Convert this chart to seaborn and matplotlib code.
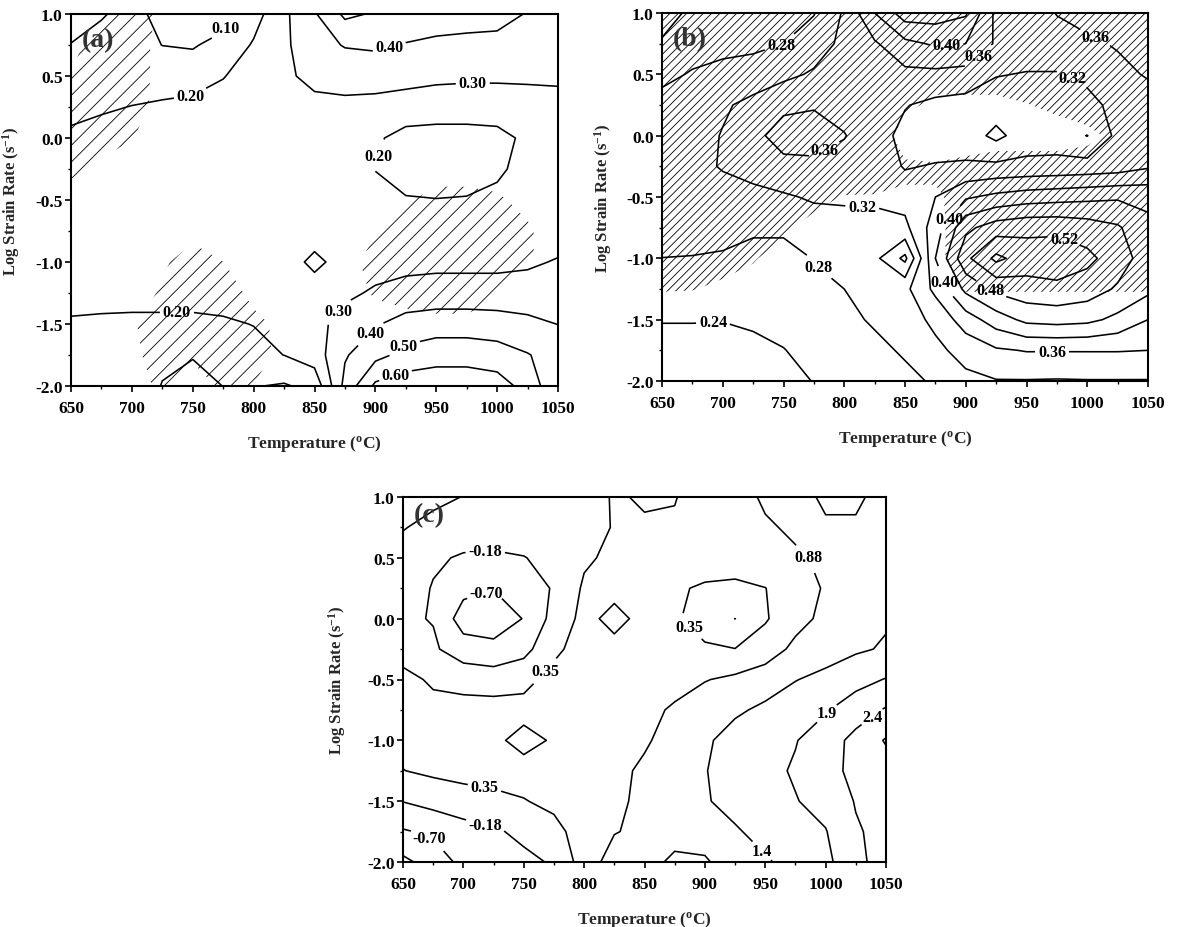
import numpy as np
import matplotlib
matplotlib.use("Agg")
import matplotlib.pyplot as plt
from matplotlib.ticker import MultipleLocator
import seaborn as sns

sns.set_theme(style="ticks")
plt.rcParams.update({
    "font.family": ["Liberation Serif", "DejaVu Serif"],
    "font.weight": "bold",
    "axes.labelweight": "bold",
    "mathtext.default": "regular",
    "axes.unicode_minus": False,
    "hatch.color": "black",
    "hatch.linewidth": 0.6,
    "axes.linewidth": 1.5,
    "axes.edgecolor": "black",
    "axes.facecolor": "white",
    "figure.facecolor": "white",
    "xtick.color": "black",
    "ytick.color": "black",
    "contour.negative_linestyle": "solid",
})

# grid of the processing maps
temperature = [650, 675, 700, 725, 750, 775, 800, 825, 850,
               875, 900, 925, 950, 975, 1000, 1025, 1050]
log_strain_rate = [1.0, 0.75, 0.5, 0.25, 0.0, -0.25, -0.5,
                   -0.75, -1.0, -1.25, -1.5, -1.75, -2.0]

# (a) power dissipation efficiency, rows from log rate 1.0 down to -2.0
eta_a = [
    [0.07, 0.095, 0.12, 0.08, 0.06, 0.06, 0.16, 0.28, 0.39, 0.52, 0.49, 0.46, 0.45, 0.44, 0.43, 0.395, 0.36],
    [0.102, 0.12, 0.13, 0.099, 0.092, 0.13, 0.21, 0.28, 0.37, 0.405, 0.415, 0.395, 0.38, 0.375, 0.375, 0.36, 0.34],
    [0.15, 0.16, 0.16, 0.15, 0.15, 0.195, 0.25, 0.28, 0.33, 0.35, 0.34, 0.33, 0.32, 0.315, 0.315, 0.315, 0.31],
    [0.17, 0.19, 0.202, 0.215, 0.23, 0.245, 0.26, 0.27, 0.27, 0.27, 0.27, 0.26, 0.25, 0.25, 0.25, 0.26, 0.28],
    [0.22, 0.23, 0.235, 0.24, 0.25, 0.25, 0.26, 0.26, 0.26, 0.24, 0.215, 0.165, 0.16, 0.16, 0.17, 0.22, 0.24],
    [0.23, 0.235, 0.24, 0.245, 0.25, 0.255, 0.26, 0.26, 0.255, 0.235, 0.198, 0.17, 0.16, 0.165, 0.185, 0.23, 0.245],
    [0.235, 0.24, 0.245, 0.25, 0.25, 0.255, 0.26, 0.26, 0.255, 0.24, 0.225, 0.205, 0.202, 0.205, 0.22, 0.24, 0.25],
    [0.24, 0.245, 0.25, 0.25, 0.255, 0.26, 0.265, 0.27, 0.27, 0.26, 0.25, 0.245, 0.245, 0.245, 0.25, 0.26, 0.27],
    [0.245, 0.25, 0.25, 0.25, 0.255, 0.26, 0.265, 0.27, 0.315, 0.275, 0.27, 0.275, 0.28, 0.28, 0.28, 0.29, 0.305],
    [0.215, 0.22, 0.225, 0.225, 0.225, 0.23, 0.245, 0.26, 0.27, 0.285, 0.31, 0.33, 0.335, 0.335, 0.335, 0.33, 0.33],
    [0.195, 0.19, 0.185, 0.185, 0.185, 0.19, 0.202, 0.24, 0.275, 0.33, 0.39, 0.44, 0.46, 0.46, 0.45, 0.43, 0.398],
    [0.17, 0.165, 0.16, 0.11, 0.105, 0.12, 0.175, 0.201, 0.25, 0.39, 0.47, 0.53, 0.55, 0.55, 0.54, 0.505, 0.46],
    [0.15, 0.14, 0.13, 0.098, 0.07, 0.101, 0.105, 0.09, 0.13, 0.43, 0.62, 0.66, 0.68, 0.68, 0.65, 0.56, 0.42],
]
# (a) instability parameter (negative = unstable, hatched)
xi_a = [
    [0.3, 0.1, -0.3, 0.1, 0.3, 0.3, 0.3, 0.3, 0.3, 0.3, 0.3, 0.3, 0.3, 0.3, 0.3, 0.3, 0.3],
    [0.2, -0.3, -0.3, 0.2, 0.3, 0.3, 0.3, 0.3, 0.3, 0.3, 0.3, 0.3, 0.3, 0.3, 0.3, 0.3, 0.3],
    [-0.05, -0.3, -0.3, 0.2, 0.3, 0.3, 0.3, 0.3, 0.3, 0.3, 0.3, 0.3, 0.3, 0.3, 0.3, 0.3, 0.3],
    [-0.3, -0.3, -0.25, 0.2, 0.3, 0.3, 0.3, 0.3, 0.3, 0.3, 0.3, 0.3, 0.3, 0.3, 0.3, 0.3, 0.3],
    [-0.3, -0.2, -0.02, 0.3, 0.3, 0.3, 0.3, 0.3, 0.3, 0.3, 0.3, 0.3, 0.3, 0.3, 0.3, 0.3, 0.3],
    [-0.1, 0.1, 0.3, 0.3, 0.3, 0.3, 0.3, 0.3, 0.3, 0.3, 0.3, 0.3, 0.2, 0.2, 0.15, 0.3, 0.3],
    [0.2, 0.3, 0.3, 0.3, 0.3, 0.3, 0.3, 0.3, 0.3, 0.3, 0.3, 0.05, -0.15, -0.15, -0.05, 0.1, 0.3],
    [0.3, 0.3, 0.3, 0.3, 0.1, 0.3, 0.3, 0.3, 0.3, 0.3, 0.02, -0.2, -0.3, -0.3, -0.2, -0.05, 0.2],
    [0.3, 0.3, 0.3, 0.05, -0.15, -0.005, 0.2, 0.3, 0.3, 0.15, -0.15, -0.3, -0.3, -0.3, -0.2, -0.05, 0.2],
    [0.3, 0.3, 0.2, -0.05, -0.3, -0.2, 0.1, 0.3, 0.3, 0.2, -0.05, -0.1, -0.2, -0.2, -0.05, 0.15, 0.3],
    [0.3, 0.3, 0.05, -0.25, -0.35, -0.3, -0.1, 0.1, 0.3, 0.3, 0.2, 0.1, 0.1, 0.1, 0.15, 0.3, 0.3],
    [0.3, 0.3, 0.1, -0.2, -0.05, -0.2, -0.15, 0.1, 0.3, 0.3, 0.3, 0.3, 0.3, 0.3, 0.3, 0.3, 0.3],
    [0.3, 0.3, 0.1, -0.05, 0.15, -0.05, 0.01, 0.2, 0.3, 0.3, 0.3, 0.3, 0.3, 0.3, 0.3, 0.3, 0.3],
]
levels_a = [0.10, 0.20, 0.30, 0.40, 0.50, 0.60]

# (b) power dissipation efficiency
eta_b = [
    [0.22, 0.25, 0.26, 0.265, 0.27, 0.278, 0.325, 0.40, 0.46, 0.46, 0.445, 0.35, 0.33, 0.362, 0.38, 0.39, 0.40],
    [0.245, 0.255, 0.265, 0.27, 0.28, 0.30, 0.33, 0.355, 0.39, 0.405, 0.40, 0.355, 0.34, 0.34, 0.35, 0.365, 0.38],
    [0.265, 0.285, 0.295, 0.30, 0.31, 0.325, 0.335, 0.345, 0.35, 0.35, 0.345, 0.322, 0.318, 0.318, 0.324, 0.345, 0.365],
    [0.30, 0.30, 0.315, 0.33, 0.352, 0.356, 0.345, 0.33, 0.322, 0.31, 0.305, 0.30, 0.29, 0.295, 0.315, 0.325, 0.335],
    [0.29, 0.305, 0.322, 0.35, 0.375, 0.38, 0.362, 0.335, 0.31, 0.305, 0.30, 0.27, 0.30, 0.30, 0.279, 0.33, 0.34],
    [0.285, 0.30, 0.325, 0.34, 0.35, 0.35, 0.345, 0.335, 0.318, 0.322, 0.325, 0.328, 0.33, 0.332, 0.335, 0.34, 0.355],
    [0.285, 0.29, 0.295, 0.305, 0.315, 0.325, 0.324, 0.325, 0.335, 0.36, 0.395, 0.41, 0.42, 0.425, 0.43, 0.435, 0.43],
    [0.30, 0.30, 0.295, 0.285, 0.285, 0.30, 0.31, 0.31, 0.31, 0.38, 0.47, 0.50, 0.51, 0.51, 0.50, 0.485, 0.45],
    [0.2795, 0.278, 0.275, 0.27, 0.27, 0.281, 0.29, 0.29, 0.23, 0.40, 0.51, 0.57, 0.54, 0.545, 0.53, 0.50, 0.46],
    [0.26, 0.262, 0.265, 0.27, 0.272, 0.275, 0.28, 0.30, 0.31, 0.37, 0.45, 0.49, 0.505, 0.51, 0.50, 0.475, 0.45],
    [0.242, 0.242, 0.241, 0.245, 0.25, 0.26, 0.27, 0.285, 0.30, 0.33, 0.38, 0.42, 0.45, 0.455, 0.45, 0.43, 0.40],
    [0.225, 0.225, 0.228, 0.232, 0.239, 0.25, 0.26, 0.27, 0.285, 0.31, 0.335, 0.355, 0.362, 0.362, 0.362, 0.362, 0.36],
    [0.21, 0.212, 0.215, 0.22, 0.23, 0.241, 0.25, 0.26, 0.27, 0.285, 0.31, 0.318, 0.318, 0.317, 0.318, 0.318, 0.318],
]
xi_b = [
    [-0.3] * 17,
    [-0.3] * 17,
    [-0.3, -0.3, -0.3, -0.3, -0.3, -0.3, -0.3, -0.3, -0.3, -0.1, -0.2, -0.1, -0.3, -0.3, -0.3, -0.3, -0.3],
    [-0.3, -0.3, -0.3, -0.3, -0.3, -0.3, -0.3, -0.3, -0.05, 0.05, 0.1, 0.05, 0.02, -0.1, -0.2, -0.3, -0.3],
    [-0.3, -0.3, -0.3, -0.3, -0.3, -0.3, -0.3, -0.15, 0.1, 0.2, 0.2, 0.2, 0.2, 0.2, 0.1, -0.1, -0.3],
    [-0.3, -0.3, -0.3, -0.3, -0.3, -0.3, -0.3, -0.2, -0.03, -0.03, -0.1, -0.2, -0.2, -0.2, -0.2, -0.3, -0.3],
    [-0.3, -0.3, -0.3, -0.3, -0.3, -0.1, 0.02, 0.02, 0.02, 0.02, -0.05, -0.2, -0.3, -0.3, -0.3, -0.3, -0.3],
    [-0.3, -0.3, -0.3, -0.2, -0.05, 0.1, 0.1, 0.1, 0.1, 0.05, -0.1, -0.2, -0.3, -0.3, -0.3, -0.3, -0.3],
    [-0.2, -0.2, -0.1, -0.02, 0.1, 0.1, 0.1, 0.1, 0.1, 0.05, -0.1, -0.2, -0.2, -0.2, -0.2, -0.2, -0.2],
    [-0.02, -0.01, 0.05, 0.1, 0.1, 0.1, 0.1, 0.1, 0.1, 0.1, -0.02, -0.02, -0.02, -0.02, -0.02, -0.02, -0.02],
    [0.2] * 17,
    [0.3] * 17,
    [0.3] * 17,
]
levels_b = [0.24, 0.28, 0.32, 0.36, 0.40, 0.44, 0.48, 0.52, 0.56]

# (c) instability criterion map
xi_c = [
    [-0.30, -0.22, -0.17, -0.05, 0.05, 0.15, 0.25, 0.37, 0.33, 0.33, 0.55, 0.75, 0.92, 0.95, 0.84, 0.84, 0.95],
    [-0.185, -0.12, -0.05, 0.00, 0.05, 0.12, 0.22, 0.37, 0.37, 0.40, 0.55, 0.72, 0.84, 0.92, 0.90, 0.90, 0.98],
    [-0.10, -0.14, -0.20, -0.23, -0.19, -0.05, 0.28, 0.45, 0.48, 0.50, 0.55, 0.65, 0.75, 0.84, 0.92, 1.00, 1.05],
    [-0.05, -0.19, -0.55, -0.68, -0.45, -0.13, 0.42, 0.50, 0.48, 0.40, 0.30, 0.22, 0.34, 0.65, 0.92, 1.15, 1.30],
    [-0.10, -0.20, -0.95, -1.00, -0.68, 0.00, 0.50, 0.20, 0.50, 0.38, 0.25, -0.18, 0.30, 0.70, 1.00, 1.20, 1.35],
    [0.05, -0.10, -0.45, -0.55, -0.35, 0.25, 0.55, 0.50, 0.55, 0.50, 0.38, 0.36, 0.60, 1.00, 1.15, 1.33, 1.45],
    [0.55, 0.25, 0.15, 0.10, 0.22, 0.50, 0.60, 0.62, 0.66, 0.75, 0.85, 0.98, 1.15, 1.38, 1.55, 1.75, 1.95],
    [0.50, 0.55, 0.55, 0.55, 0.50, 0.55, 0.62, 0.70, 0.78, 0.92, 1.15, 1.32, 1.50, 1.70, 1.88, 2.20, 2.50],
    [0.50, 0.55, 0.55, 0.45, 0.20, 0.40, 0.60, 0.70, 0.82, 1.05, 1.32, 1.60, 1.78, 1.90, 2.20, 2.60, 3.02],
    [0.34, 0.45, 0.50, 0.50, 0.52, 0.58, 0.66, 0.76, 0.95, 1.15, 1.38, 1.60, 1.78, 1.98, 2.25, 2.60, 2.75],
    [-0.16, 0.00, 0.15, 0.25, 0.33, 0.45, 0.60, 0.78, 0.98, 1.15, 1.36, 1.55, 1.72, 1.90, 2.10, 2.48, 2.65],
    [-0.75, -0.60, -0.40, -0.25, -0.05, 0.22, 0.55, 0.85, 0.98, 1.05, 1.15, 1.35, 1.55, 1.75, 1.90, 2.40, 2.60],
    [-1.35, -1.00, -0.55, -0.40, -0.30, -0.12, 0.60, 1.10, 1.05, 0.78, 0.80, 1.20, 1.35, 1.55, 1.80, 2.30, 2.70],
]
levels_c = [-1.225, -0.70, -0.175, 0.35, 0.875, 1.40, 1.925, 2.45, 2.975]
label_text_c = {-1.225: "-1.2", -0.70: "-0.70", -0.175: "-0.18", 0.35: "0.35", 0.875: "0.88",
                1.40: "1.4", 1.925: "1.9", 2.45: "2.4", 2.975: "3.0"}

# where the contour values are written on each map
label_spots_a = [(782, 0.85), (748, 0.37), (912, 0.71), (980, 0.46), (905, -0.15),
                 (737, -1.39), (870, -1.40), (893, -1.55), (922, -1.66), (915, -1.87)]
label_spots_b = [(748, 0.74), (884, 0.76), (912, 0.63), (1006, 0.79), (985, 0.43),
                 (786, -0.16), (815, -0.55), (884, -0.66), (981, -0.84), (779, -1.07),
                 (886, -1.18), (918, -1.30), (692, -1.52), (971, -1.81)]
label_spots_c = [(718, 0.575), (718, 0.24), (772, -0.47), (884, -0.10), (984, 0.49),
                 (1000, -0.77), (1038, -0.80), (718, -1.36), (718, -1.70), (672, -1.80),
                 (950, -1.88)]


def style_axes(ax, tag, tag_y):
    ax.set_xlim(650, 1050)
    ax.set_ylim(-2.0, 1.0)
    ax.xaxis.set_major_locator(MultipleLocator(50))
    ax.xaxis.set_minor_locator(MultipleLocator(25))
    ax.yaxis.set_major_locator(MultipleLocator(0.5))
    ax.yaxis.set_minor_locator(MultipleLocator(0.25))
    ax.yaxis.set_major_formatter(plt.FormatStrFormatter("%.1f"))
    ax.tick_params(which="major", direction="out", length=4, width=1.2,
                   labelsize=12.5, top=False, right=False)
    ax.tick_params(axis="y", which="major", pad=2)
    ax.tick_params(axis="x", which="major", pad=6)
    ax.tick_params(which="minor", direction="out", length=2.5, width=1.0,
                   top=False, right=False)
    for lab in ax.get_xticklabels() + ax.get_yticklabels():
        lab.set_fontweight("bold")
    for sp in ax.spines.values():
        sp.set_visible(True)
        sp.set_linewidth(1.5)
        sp.set_color("black")
    ax.set_xlabel("Temperature ($^{o}$C)", fontsize=12.5, fontweight="bold")
    ax.set_ylabel("Log Strain Rate (s$^{-1}$)", fontsize=12, fontweight="bold")
    ax.text(0.022, tag_y, tag, transform=ax.transAxes, ha="left", va="top",
            fontsize=20, fontweight="bold", color="#333333", zorder=5)


def draw_map(ax, field, levels, fmt, spots, unstable=None, hatch=None):
    T = np.asarray(temperature, dtype=float)
    R = np.asarray(log_strain_rate, dtype=float)
    if unstable is not None:
        U = np.asarray(unstable, dtype=float)
        cf = ax.contourf(T, R, U, levels=[U.min() - 1.0, 0.0], colors="none",
                         hatches=[hatch], zorder=1)
        cf.set_edgecolor("black")
        cf.set_linewidth(0.0)
    cs = ax.contour(T, R, np.asarray(field, dtype=float), levels=levels,
                    colors="black", linewidths=1.15, linestyles="solid", zorder=3)
    texts = ax.clabel(cs, fmt=fmt, manual=spots,
                      inline=True, inline_spacing=3, fontsize=11.5)
    for t in texts:
        t.set_rotation(0)
        t.set_fontweight("bold")
    return cs


fig = plt.figure(figsize=(11.77, 9.28), dpi=100)
ax_a = fig.add_axes([71 / 1177, 1 - 387 / 928, 487 / 1177, 372 / 928])
ax_b = fig.add_axes([662 / 1177, 1 - 382 / 928, 486 / 1177, 368 / 928])
ax_c = fig.add_axes([403 / 1177, 1 - 863 / 928, 483 / 1177, 365 / 928])

draw_map(ax_a, eta_a, levels_a, "%.2f", label_spots_a, xi_a, "//")
draw_map(ax_b, eta_b, levels_b, "%.2f", label_spots_b, xi_b, "////")
draw_map(ax_c, xi_c, levels_c, label_text_c, label_spots_c)

style_axes(ax_a, "(a)", 0.965)
style_axes(ax_b, "(b)", 0.965)
style_axes(ax_c, "(c)", 0.985)

ax_a.yaxis.set_label_coords(-0.100, 0.5)
ax_b.yaxis.set_label_coords(-0.098, 0.5)
ax_c.yaxis.set_label_coords(-0.113, 0.5)
ax_a.xaxis.set_label_coords(0.5, -0.126)
ax_b.xaxis.set_label_coords(0.5, -0.128)
ax_c.xaxis.set_label_coords(0.5, -0.129)

fig.savefig("out.png", dpi=100, facecolor="white")
